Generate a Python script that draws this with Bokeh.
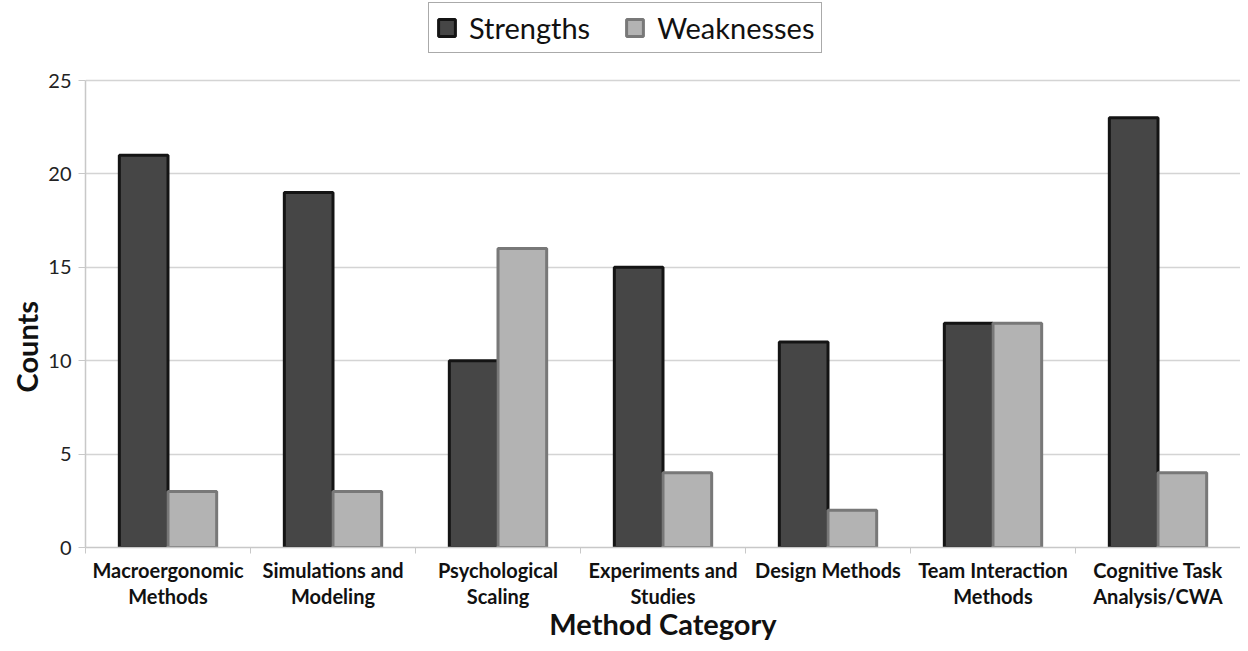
from bokeh.plotting import figure
from bokeh.models import ColumnDataSource, FixedTicker, Legend, LegendItem, Range1d, Title
from bokeh.embed import file_html
from bokeh.resources import INLINE

categories = ["Macroergonomic\nMethods", "Simulations and\nModeling", "Psychological\nScaling",
              "Experiments and\nStudies", "Design Methods", "Team Interaction\nMethods",
              "Cognitive Task\nAnalysis/CWA"]
strengths = [21, 19, 10, 15, 11, 12, 23]
weaknesses = [3, 3, 16, 4, 2, 12, 4]
y_ticks = [0, 5, 10, 15, 20, 25]

FONT = "Lato"
BW = 0.295
idx = list(range(len(categories)))

# frame top is extended above the last tick so the legend can sit inside the frame
FRAME_TOP_PX, FRAME_BOTTOM_PX = 0, 547
AXIS_TOP_PX = 80
y_top = y_ticks[-1] * (FRAME_BOTTOM_PX - FRAME_TOP_PX) / (FRAME_BOTTOM_PX - AXIS_TOP_PX)

src = ColumnDataSource(dict(
    xs=[i - BW / 2 for i in idx], xw=[i + BW / 2 for i in idx],
    s=strengths, w=weaknesses))

p = figure(width=1240, height=643, output_backend="svg", toolbar_location=None,
           x_range=Range1d(-0.5, len(categories) - 0.5), y_range=Range1d(0, y_top),
           min_border_left=85, min_border_right=0, min_border_top=0, min_border_bottom=96)
p.outline_line_color = None
p.background_fill_color = "white"
p.border_fill_color = "white"

r1 = p.vbar(x="xs", top="s", width=BW, source=src, fill_color="#464646",
            line_color="#141414", line_width=3)
r2 = p.vbar(x="xw", top="w", width=BW, source=src, fill_color="#b3b3b3",
            line_color="#787878", line_width=3)

# x axis
p.xaxis.ticker = FixedTicker(ticks=idx, minor_ticks=[i - 0.5 for i in range(len(categories) + 1)])
p.xaxis.major_label_overrides = {i: c for i, c in enumerate(categories)}
p.xaxis.major_tick_out = 0
p.xaxis.major_tick_in = 0
p.xaxis.minor_tick_out = 6
p.xaxis.minor_tick_in = 0
p.xaxis.minor_tick_line_color = "#c8c8c8"
p.xaxis.axis_line_color = "#c8c8c8"
p.xaxis.axis_line_width = 1.5
p.xaxis.major_label_text_font = FONT
p.xaxis.major_label_text_font_style = "bold"
p.xaxis.major_label_text_font_size = "20px"
p.xaxis.major_label_text_line_height = 1.1
p.xaxis.major_label_text_color = "#111111"
p.xaxis.major_label_standoff = 4
p.xaxis.axis_label = "Method Category"
p.xaxis.axis_label_text_font = FONT
p.xaxis.axis_label_text_font_style = "bold"
p.xaxis.axis_label_text_font_size = "29px"
p.xaxis.axis_label_text_color = "#111111"
p.xaxis.axis_label_standoff = -5

# y axis
p.yaxis.ticker = FixedTicker(ticks=y_ticks)
p.yaxis.bounds = (y_ticks[0], y_ticks[-1])
p.yaxis.minor_tick_line_color = None
p.yaxis.major_tick_out = 7
p.yaxis.major_tick_in = 0
p.yaxis.major_tick_line_color = "#c8c8c8"
p.yaxis.axis_line_color = "#c8c8c8"
p.yaxis.axis_line_width = 1.5
p.yaxis.major_label_text_font = FONT
p.yaxis.major_label_text_font_size = "20px"
p.yaxis.major_label_text_color = "#222222"
p.yaxis.major_label_standoff = 7

p.add_layout(Title(text="Counts", align="left", offset=155, standoff=4,
                   text_font=FONT, text_font_style="bold", text_font_size="29px",
                   text_color="#111111"), "left")

p.xgrid.grid_line_color = None
p.ygrid.grid_line_color = "#d4d4d4"
p.ygrid.grid_line_width = 1.5

legend = Legend(items=[LegendItem(label="Strengths", renderers=[r1]),
                       LegendItem(label="Weaknesses", renderers=[r2])],
                orientation="horizontal", location=(343, 494),
                label_text_font=FONT, label_text_font_size="29px", label_text_color="#111111",
                glyph_width=21, glyph_height=21, label_standoff=12, spacing=34,
                padding=7, margin=0, border_line_color="#555555", border_line_width=1.5,
                label_height=24)
p.add_layout(legend, "center")

open("out.html", "w").write(file_html(p, INLINE))
